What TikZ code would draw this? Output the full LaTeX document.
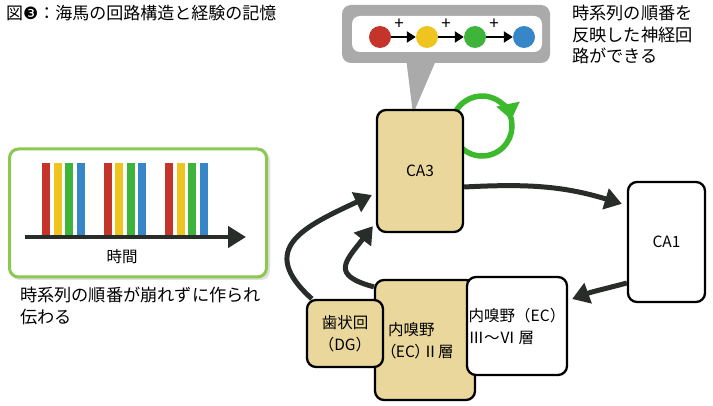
\documentclass[tikz,border=0pt]{standalone}
\usepackage{fontspec}
\setmainfont{Noto Sans CJK JP}
\newfontfamily\dejavu{DejaVu Sans}
\newfontfamily\pfont{Noto Sans CJK JP}[RawFeature=+palt]
\usetikzlibrary{arrows.meta,calc}
\definecolor{tanc}{RGB}{234,215,156}
\definecolor{darkc}{RGB}{40,45,42}
\definecolor{gborder}{RGB}{140,200,80}
\definecolor{loopg}{RGB}{60,185,45}
\definecolor{bubg}{RGB}{170,170,170}
\definecolor{cred}{RGB}{196,52,42}
\definecolor{cyel}{RGB}{240,196,30}
\definecolor{cgrn}{RGB}{62,180,58}
\definecolor{cblu}{RGB}{55,135,200}
\begin{document}
\begin{tikzpicture}[x=1pt,y=-1pt,
  box/.style={draw=black,line width=2.3pt,rounded corners=9pt,inner sep=0pt},
  tanbox/.style={box,fill=tanc},
  whitebox/.style={box,fill=white},
  arr/.style={draw=darkc,line width=5pt,-{Triangle[length=17pt,width=21pt]}},
  jp/.style={font=\fontsize{17.2}{21.5}\selectfont},
  lbl/.style={font=\fontsize{15.5}{22}\selectfont},
  dot/.style={circle,minimum size=22pt,inner sep=0pt},
  small/.style={draw=black,line width=2.6pt,-{Triangle[length=9pt,width=11pt]}},
  plus/.style={font=\fontsize{17}{17}\selectfont,inner sep=0pt},
]
\useasboundingbox (0,0) rectangle (713,406);
\fill[white] (0,0) rectangle (713,406);

% title
\node[anchor=west,font=\fontsize{17}{18}\selectfont,inner sep=0pt] (title) at (6,13) {図{\dejavu ❸}：海馬の回路構造と経験の記憶};

% left green box
\fill[black!12,rounded corners=9pt] (11,151) rectangle (270,280);
\node[draw=gborder,line width=3pt,fill=white,rounded corners=9pt,minimum width=257pt,minimum height=128pt] (timebox) at (138,213) {};
\foreach \g in {0,61.5,123}{
  \fill[cred] (42+\g,163) rectangle ++(8,74);
  \fill[cyel] (53.5+\g,163) rectangle ++(8,74);
  \fill[cgrn] (65+\g,163) rectangle ++(8,74);
  \fill[cblu] (76.5+\g,163) rectangle ++(8,74);
}
\coordinate (t0) at (25,237);
\coordinate (t1) at (246,237);
\draw[line width=4.8pt,draw=darkc,-{Triangle[length=18pt,width=21pt]}] (t0) -- (t1);
\node[lbl] (jikan) at (122,257) {時間};
\node[jp,anchor=north west,align=left,inner sep=0pt] (cap) at (20,287) {時系列の順番が崩れずに作られ\\伝わる};

% speech bubble
\node[fill=bubg,rounded corners=9pt,minimum width=208pt,minimum height=58pt] (bubble) at (446,34) {};
\fill[bubg] (406,58) -- (437,58) -- (413,114) -- cycle;
\node[fill=white,rounded corners=8pt,minimum width=190pt,minimum height=36pt] (inner) at (447,34) {};
\node[dot,fill=cred] (c1) at (380,37) {};
\node[dot,fill=cyel] (c2) at (427,37) {};
\node[dot,fill=cgrn] (c3) at (475,37) {};
\node[dot,fill=cblu] (c4) at (524,37) {};
\draw[small] (c1) -- (c2);
\draw[small] (c2) -- (c3);
\draw[small] (c3) -- (c4);
\node[plus] (p1) at (399,24) {+};
\node[plus] (p2) at (446,24) {+};
\node[plus] (p3) at (494,24) {+};
\node[jp,anchor=north west,align=left,inner sep=0pt] (rtext) at (572,5) {時系列の順番を\\反映した神経回\\路ができる};

% recurrent loop
\coordinate (lc) at (482,126);
\draw[draw=loopg,line width=5.5pt] ([shift={(32:30pt)}]lc) arc[start angle=32,end angle=-150,radius=30pt];
\draw[draw=loopg,line width=5.5pt,-{Triangle[length=16pt,width=23pt]}] ([shift={(150:30pt)}]lc) arc[start angle=150,end angle=12,radius=30pt];

% boxes
\node[tanbox,minimum width=86pt,minimum height=122pt,lbl] (ca3) at (420,171) {CA3};
\node[whitebox,minimum width=77pt,minimum height=120pt,lbl] (ca1) at (666.5,242) {CA1};
\node[tanbox,minimum width=100pt,minimum height=120pt] (ec2) at (425,340) {};
\node[whitebox,minimum width=100pt,minimum height=98pt,lbl,align=left] (ec3) at (517,326) {内嗅野（EC）\\Ⅲ～Ⅵ 層};
\node[tanbox,minimum width=76pt,minimum height=67pt,lbl,align=center] (dg) at (345,333.5) {歯状回\\（DG）};
\node[lbl,anchor=west,align=left,inner sep=0pt] (ec2txt) at (388,341) {内嗅野\\{\pfont（EC）Ⅱ層}};

% arrows
\draw[arr] ([yshift=-16pt]ca3.east) to[out=3,in=163] ([xshift=-5pt,yshift=-23pt]ca1.north west);
\draw[arr] ([yshift=-41pt]ca1.west) to[out=195,in=20] ([xshift=4pt,yshift=27pt]ec3.east);
\draw[arr] ([xshift=6pt]dg.north west) to[out=138,in=205,looseness=1.6] ([xshift=-4pt,yshift=-24pt]ca3.west);
\draw[arr] ([yshift=-8pt]ec2.north west) to[out=165,in=232,looseness=1.9] ([xshift=-3pt,yshift=7pt]ca3.south west);
\end{tikzpicture}
\end{document}
